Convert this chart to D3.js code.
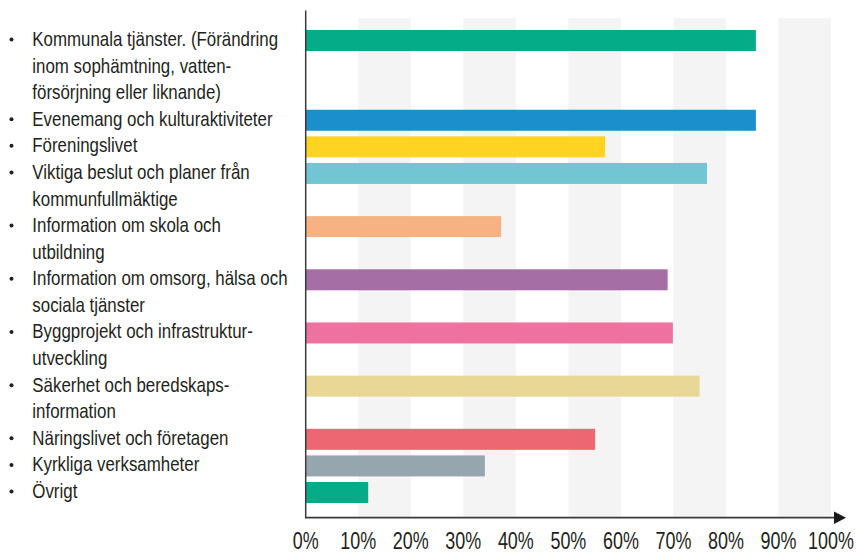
<!DOCTYPE html>
<html lang="sv">
  <head>
    <meta charset="UTF-8" />
    <title>Kommunal information</title>
    <script src="https://cdn.jsdelivr.net/npm/d3@7"></script>
    <style>
      body { margin: 0; background: #fff; }
      svg text { font-family: "Liberation Sans", Arial, sans-serif; fill: #231f20; }
      .label { font-size: 20px; }
      .tick-label { font-size: 23px; }
    </style>
  </head>
  <body>
    <script>
      // categories, each as its wrapped label lines
      var categories = [
        ["Kommunala tjänster. (Förändring", "inom sophämtning, vatten-", "försörjning eller liknande)"],
        ["Evenemang och kulturaktiviteter"],
        ["Föreningslivet"],
        ["Viktiga beslut och planer från", "kommunfullmäktige"],
        ["Information om skola och", "utbildning"],
        ["Information om omsorg, hälsa och", "sociala tjänster"],
        ["Byggprojekt och infrastruktur-", "utveckling"],
        ["Säkerhet och beredskaps-", "information"],
        ["Näringslivet och företagen"],
        ["Kyrkliga verksamheter"],
        ["Övrigt"]
      ];
      var values = [85.7, 85.7, 57.0, 76.4, 37.2, 68.9, 69.9, 75.0, 55.1, 34.1, 11.9];
      var colors = ["#04ac88", "#1b8fcb", "#fed322", "#72c6d3", "#f7b283", "#a56fa5",
                    "#ef719f", "#e9d795", "#ec6771", "#95a6af", "#04ac88"];
      var tickValues = [0, 10, 20, 30, 40, 50, 60, 70, 80, 90, 100];

      var w = 856, h = 554;
      var svg = d3.select("body").append("svg")
                  .attr("width", w)
                  .attr("height", h);

      var x = d3.scaleLinear().domain([0, 100]).range([305.7, 831]);

      // each label line gets a row; bars sit on the first line of their label
      var rows = [];
      var startRow = [];
      categories.forEach(function(lines, i) {
        startRow.push(rows.length);
        lines.forEach(function(t, j) {
          rows.push({ text: t, first: j == 0 });
        });
      });
      var y = d3.scaleLinear().domain([0, rows.length - 1]).range([40.5, 492.5]);

      var axisY = 517.7;
      var barH = 21;

      // background stripes
      svg.selectAll(".stripe")
         .data(tickValues.filter(function(d, i) { return i % 2 == 1; }))
         .enter()
         .append("rect")
         .attr("class", "stripe")
         .attr("x", function(d) { return x(d); })
         .attr("y", 18)
         .attr("width", x(10) - x(0))
         .attr("height", axisY - 18)
         .attr("fill", "#f4f4f4");

      // bars
      svg.selectAll(".bar")
         .data(values)
         .enter()
         .append("rect")
         .attr("class", "bar")
         .attr("x", x(0))
         .attr("y", function(d, i) { return y(startRow[i]) - barH / 2; })
         .attr("width", function(d) { return x(d) - x(0); })
         .attr("height", barH)
         .attr("fill", function(d, i) { return colors[i]; });

      // labels (condensed font look: squeeze horizontally)
      var labelG = svg.append("g");
      labelG.selectAll(".label")
         .data(rows)
         .enter()
         .append("text")
         .attr("class", "label")
         .attr("x", 0)
         .attr("y", function(d, i) { return y(i) + 5.5; })
         .text(function(d) { return d.text; });
      var firstLen = labelG.select("text").node().getComputedTextLength();
      var k = 246 / firstLen;
      labelG.attr("transform", "translate(32.3,0) scale(" + k + ",1)");

      svg.selectAll(".bullet")
         .data(rows.filter(function(d) { return d.first; }))
         .enter()
         .append("circle")
         .attr("class", "bullet")
         .attr("cx", 11.5)
         .attr("cy", function(d) { return y(rows.indexOf(d)) - 1; })
         .attr("r", 2)
         .attr("fill", "#231f20");

      // axes
      svg.append("line")
         .attr("x1", x(0)).attr("x2", x(0))
         .attr("y1", 10.5).attr("y2", axisY)
         .attr("stroke", "#3a3a3a")
         .attr("stroke-width", 1.5);

      svg.append("line")
         .attr("x1", x(0) - 0.75).attr("x2", 836)
         .attr("y1", axisY).attr("y2", axisY)
         .attr("stroke", "#3a3a3a")
         .attr("stroke-width", 1.8);

      svg.append("path")
         .attr("d", "M834," + (axisY - 6.3) + "L846," + axisY + "L834," + (axisY + 6.3) + "Z")
         .attr("fill", "#1a1a1a");

      svg.selectAll(".tick-label")
         .data(tickValues)
         .enter()
         .append("text")
         .attr("class", "tick-label")
         .attr("transform", function(d) { return "translate(" + x(d) + ",549) scale(0.78,1)"; })
         .attr("text-anchor", "middle")
         .text(function(d) { return d + "%"; });
    </script>
  </body>
</html>
